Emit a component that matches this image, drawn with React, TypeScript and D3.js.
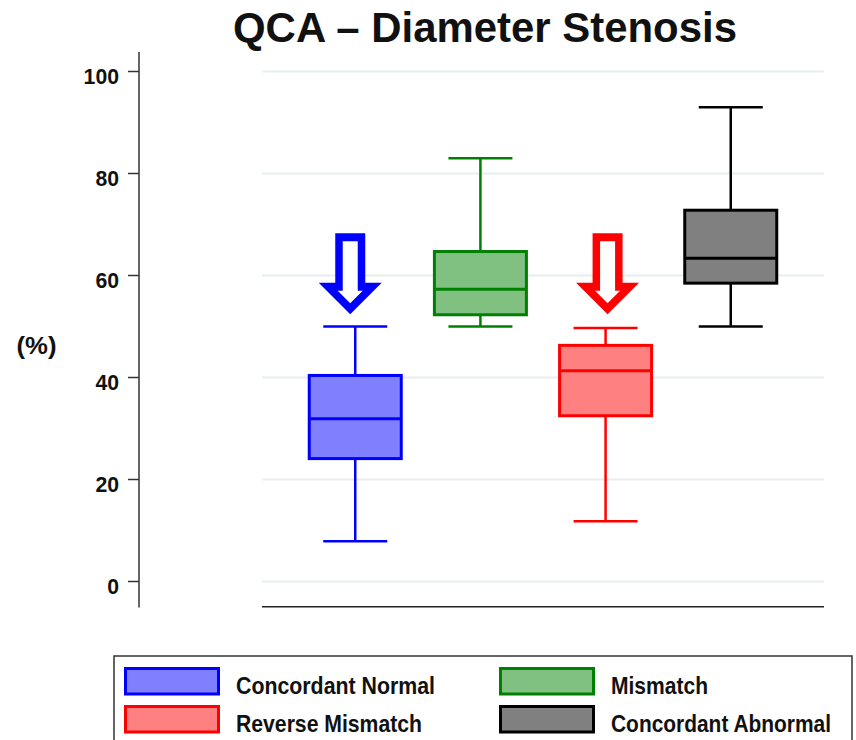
import React from "react";
import * as d3 from "d3";

const categories = ["Concordant Normal", "Mismatch", "Reverse Mismatch", "Concordant Abnormal"];
const whiskerLow = [7.9, 50, 11.8, 50];
const q1 = [24.1, 52.3, 32.5, 58.5];
const median = [31.9, 57.3, 41.3, 63.4];
const q3 = [40.4, 64.7, 46.3, 72.8];
const whiskerHigh = [50, 83, 49.7, 93];
const strokeColors = ["#0000ff", "#008000", "#ff0000", "#000000"];
const fillColors = ["#8080ff", "#80c080", "#ff8080", "#808080"];
const yTicks = [0, 20, 40, 60, 80, 100];
const arrowCategories = ["Concordant Normal", "Reverse Mismatch"];
const arrowColors = ["#0000ff", "#ff0000"];
const arrowTopValue = [68.3, 68.3];
const arrowTipValue = [52.4, 52.4];
const arrowOffsets = [-5, 2];
const legendOrder = [0, 1, 2, 3];
const legendTextWidths = [199, 97, 186, 220];

const W = 856;
const H = 740;
const FONT = "'Liberation Sans', Arial, sans-serif";

export default function App() {
  const x = d3.scalePoint<string>().domain(categories).range([262, 824]).padding(0.745);
  const y = d3.scaleLinear().domain([0, 100]).range([581.5, 71.5]);
  const boxW = 92;
  const capW = 64;

  const arrowPath = (cx: number, topY: number, tipY: number, inner: boolean) => {
    const headH = 31.5;
    if (!inner) {
      const hb = tipY - headH;
      return `M${cx - 15},${topY}L${cx + 15},${topY}L${cx + 15},${hb}L${cx + 31.5},${hb}L${cx},${tipY}L${cx - 31.5},${hb}L${cx - 15},${hb}Z`;
    }
    const t = topY + 8;
    const tip = tipY - 11;
    const hb = tip - 12.6;
    return `M${cx - 7.5},${t}L${cx + 7.5},${t}L${cx + 7.5},${hb}L${cx + 12.5},${hb}L${cx},${tip}L${cx - 12.5},${hb}L${cx - 7.5},${hb}Z`;
  };

  return (
    <svg width={W} height={H} style={{ position: "absolute", left: 0, top: 0, background: "#fff" }}>
      <rect x={0} y={0} width={W} height={H} fill="#fff" />
      {/* title */}
      <text x={233} y={42} fontFamily={FONT} fontWeight="bold" fontSize={43} fill="#111"
        textLength={504} lengthAdjust="spacingAndGlyphs">QCA – Diameter Stenosis</text>

      {/* gridlines */}
      {yTicks.map((t) => (
        <line key={"g" + t} x1={262} x2={824} y1={y(t)} y2={y(t)} stroke="#e6eef0" strokeWidth={2} />
      ))}
      {/* bottom axis line */}
      <line x1={262} x2={824} y1={606.8} y2={606.8} stroke="#222" strokeWidth={1.5} />

      {/* y axis */}
      <line x1={139} x2={139} y1={52} y2={607.5} stroke="#333" strokeWidth={1.5} />
      {yTicks.map((t) => (
        <g key={"t" + t}>
          <line x1={128} x2={139} y1={y(t)} y2={y(t)} stroke="#333" strokeWidth={1.5} />
          <text x={119} y={y(t) + 12.5} textAnchor="end" fontFamily={FONT} fontWeight="bold"
            fontSize={22} fill="#111" textLength={String(t).length * 11.8}
            lengthAdjust="spacingAndGlyphs">{t}</text>
        </g>
      ))}
      <text x={16.5} y={354} fontFamily={FONT} fontWeight="bold" fontSize={23} fill="#111"
        textLength={40} lengthAdjust="spacingAndGlyphs">(%)</text>

      {/* boxes */}
      {categories.map((c, i) => {
        const cx = x(c) as number;
        const col = strokeColors[i];
        return (
          <g key={c}>
            <line x1={cx} x2={cx} y1={y(whiskerHigh[i])} y2={y(q3[i])} stroke={col} strokeWidth={2.5} />
            <line x1={cx} x2={cx} y1={y(q1[i])} y2={y(whiskerLow[i])} stroke={col} strokeWidth={2.5} />
            <line x1={cx - capW / 2} x2={cx + capW / 2} y1={y(whiskerHigh[i])} y2={y(whiskerHigh[i])} stroke={col} strokeWidth={2.5} />
            <line x1={cx - capW / 2} x2={cx + capW / 2} y1={y(whiskerLow[i])} y2={y(whiskerLow[i])} stroke={col} strokeWidth={2.5} />
            <rect x={cx - boxW / 2} y={y(q3[i])} width={boxW} height={y(q1[i]) - y(q3[i])}
              fill={fillColors[i]} stroke={col} strokeWidth={3} />
            <line x1={cx - boxW / 2} x2={cx + boxW / 2} y1={y(median[i])} y2={y(median[i])} stroke={col} strokeWidth={3} />
          </g>
        );
      })}

      {/* arrows */}
      {arrowCategories.map((c, i) => {
        const cx = (x(c) as number) + arrowOffsets[i];
        const topY = y(arrowTopValue[i]);
        const tipY = y(arrowTipValue[i]);
        return (
          <g key={"a" + c}>
            <path d={arrowPath(cx, topY, tipY, false)} fill={arrowColors[i]} />
            <path d={arrowPath(cx, topY, tipY, true)} fill="#fff" />
          </g>
        );
      })}

      {/* legend */}
      <rect x={114} y={656} width={738} height={100} fill="#fff" stroke="#333" strokeWidth={1.5} />
      {legendOrder.map((k, j) => {
        const col = j % 2;
        const row = Math.floor(j / 2);
        const sx = col === 0 ? 125.5 : 500.5;
        const sy = 668.5 + row * 38;
        return (
          <g key={"l" + k}>
            <rect x={sx} y={sy} width={93} height={25.5} fill={fillColors[k]} stroke={strokeColors[k]} strokeWidth={3} />
            <text x={sx + 110.5} y={sy + 25} fontFamily={FONT} fontWeight="bold" fontSize={24} fill="#111"
              textLength={legendTextWidths[k]} lengthAdjust="spacingAndGlyphs">{categories[k]}</text>
          </g>
        );
      })}
    </svg>
  );
}
